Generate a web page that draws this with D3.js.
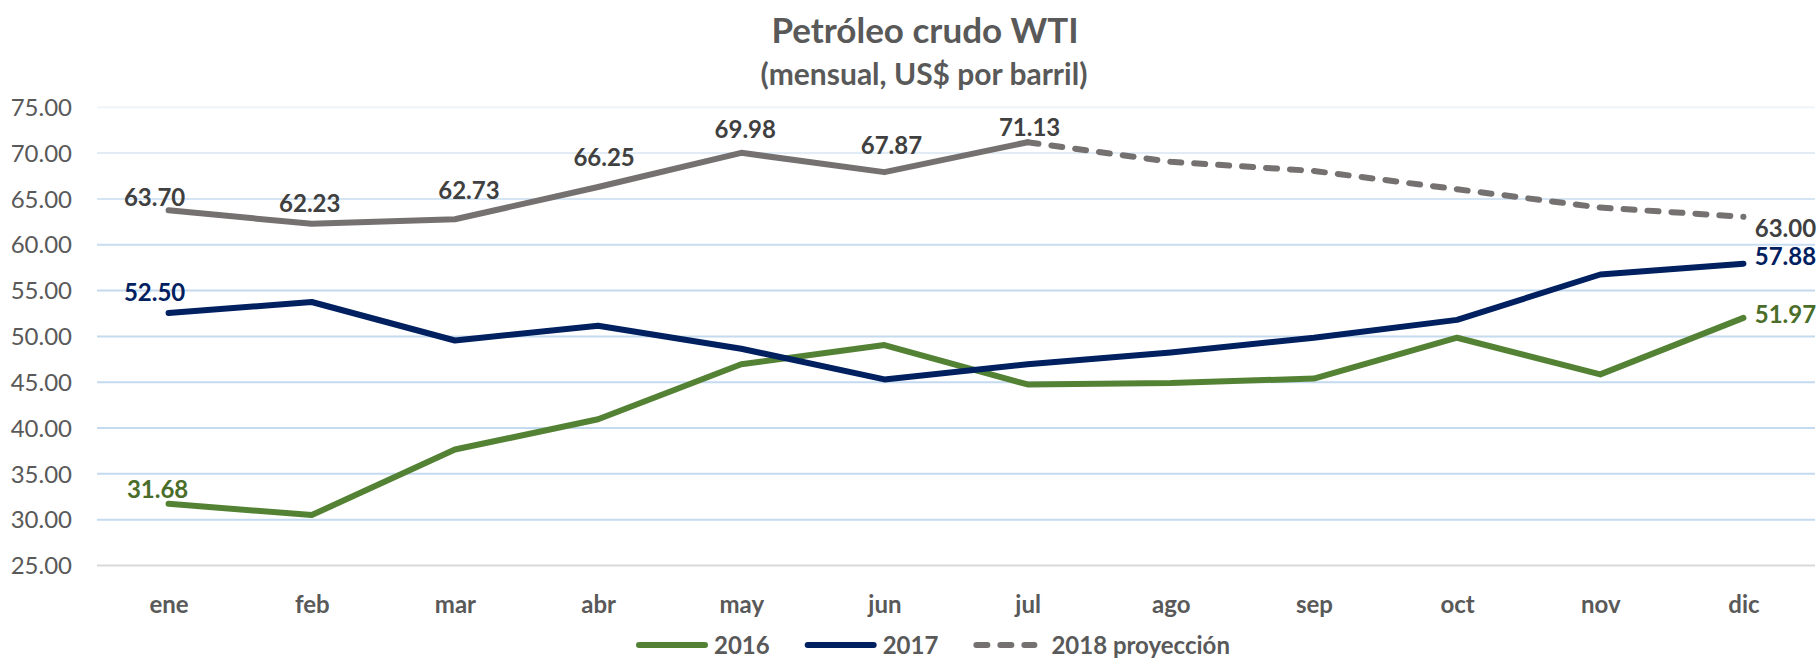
<!DOCTYPE html>
<html>
<head>
<meta charset="utf-8">
<script src="https://cdn.jsdelivr.net/npm/d3@7"></script>
<style>
  html, body { margin: 0; padding: 0; background: #fff; }
  svg { display: block; font-family: Lato, "Open Sans", sans-serif; }
</style>
</head>
<body>
<script>
//////////////////
////  Data    ////
//////////////////

const months = ["ene", "feb", "mar", "abr", "may", "jun", "jul", "ago", "sep", "oct", "nov", "dic"];

const values2016 = [31.68, 30.45, 37.6, 40.9, 46.9, 49.0, 44.7, 44.85, 45.35, 49.8, 45.8, 51.97];
const values2017 = [52.50, 53.7, 49.5, 51.1, 48.6, 45.25, 46.9, 48.2, 49.8, 51.75, 56.7, 57.88];
const values2018 = [63.70, 62.23, 62.73, 66.25, 69.98, 67.87, 71.13, 69.0, 68.0, 66.0, 64.0, 63.00];

// last month with real data for 2018, the rest is projection
const lastActual2018 = 6;

const yTicks = [25, 30, 35, 40, 45, 50, 55, 60, 65, 70, 75];

const titleText = "Petróleo crudo WTI";
const subtitleText = "(mensual, US$ por barril)";
const legendNames = ["2016", "2017", "2018 proyección"];

//////////////////////////////////
////  Layout and styles        ////
//////////////////////////////////

const width = 1820;
const height = 661;
const plot = { left: 97, right: 1815, top: 106.8, bottom: 565 };

const green = "#548235";
const navy = "#002060";
const grey = "#767171";
const textGrey = "#595959";

// labels: which point, and where the text sits relative to it
const labelSpots = [
    { s: 2, i: 0, dx: -14, dy: -13, fill: "#404040" },
    { s: 2, i: 1, dx: -2, dy: -21, fill: "#404040" },
    { s: 2, i: 2, dx: 14, dy: -29, fill: "#404040" },
    { s: 2, i: 3, dx: 6, dy: -30, fill: "#404040" },
    { s: 2, i: 4, dx: 4, dy: -24, fill: "#404040" },
    { s: 2, i: 5, dx: 7, dy: -27, fill: "#404040" },
    { s: 2, i: 6, dx: 2, dy: -15, fill: "#404040" },
    { s: 2, i: 11, dx: 42, dy: 11, fill: "#404040" },
    { s: 1, i: 0, dx: -14, dy: -21, fill: navy },
    { s: 1, i: 11, dx: 42, dy: -8, fill: navy },
    { s: 0, i: 0, dx: -11, dy: -15, fill: "#4a6e2a" },
    { s: 0, i: 11, dx: 42, dy: -4, fill: "#4a6e2a" }
];

const series = [values2016, values2017, values2018];

const x = d3.scalePoint().domain(months).range([plot.left, plot.right]).padding(0.5);
const y = d3.scaleLinear().domain([25, 75]).range([plot.bottom, plot.top]);

// gridlines fade out towards the top
const gridColor = d3.scaleLinear().domain([75, 58]).range(["#eef4fa", "#c3daef"]).clamp(true);

const svg = d3.select("body").append("svg")
    .attr("width", width)
    .attr("height", height);

// title
svg.append("text")
    .attr("x", 925).attr("y", 43)
    .attr("text-anchor", "middle")
    .attr("font-size", 35).attr("font-weight", 700)
    .attr("fill", textGrey)
    .text(titleText);

svg.append("text")
    .attr("x", 924).attr("y", 85)
    .attr("text-anchor", "middle")
    .attr("font-size", 30).attr("font-weight", 700)
    .attr("fill", textGrey)
    .text(subtitleText);

// y axis + gridlines
const yAxis = svg.append("g")
    .attr("transform", `translate(${plot.left},0)`)
    .call(d3.axisLeft(y)
        .tickValues(yTicks)
        .tickFormat(d3.format(".2f"))
        .tickSizeInner(-(plot.right - plot.left))
        .tickSizeOuter(0)
        .tickPadding(25));

yAxis.select(".domain").remove();
yAxis.selectAll(".tick line")
    .attr("stroke", d => d === 25 ? "#d9d9d9" : gridColor(d))
    .attr("stroke-width", 2);
yAxis.selectAll(".tick text")
    .attr("font-family", "Lato, sans-serif")
    .attr("font-size", 24)
    .attr("fill", textGrey)
    .attr("dy", "0.36em");

// x axis labels
const xAxis = svg.append("g")
    .attr("transform", `translate(0,${plot.bottom})`)
    .call(d3.axisBottom(x).tickSize(0).tickPadding(31));

xAxis.select(".domain").remove();
xAxis.selectAll(".tick text")
    .attr("font-family", "Lato, sans-serif")
    .attr("font-size", 24)
    .attr("font-weight", 700)
    .attr("fill", textGrey);

// lines
const line = d3.line()
    .x((d, i) => x(months[i]))
    .y(d => y(d));

const lineAt = (vals, from, to) => d3.line()
    .x(d => x(months[d]))
    .y(d => y(vals[d]))(d3.range(from, to + 1));

const lines = svg.append("g")
    .attr("fill", "none")
    .attr("stroke-width", 6)
    .attr("stroke-linecap", "round")
    .attr("stroke-linejoin", "round");

lines.append("path").attr("d", lineAt(values2018, lastActual2018, 11))
    .attr("stroke", grey).attr("stroke-dasharray", "11 13");
lines.append("path").attr("d", lineAt(values2018, 0, lastActual2018))
    .attr("stroke", grey);
lines.append("path").attr("d", line(values2016)).attr("stroke", green);
lines.append("path").attr("d", line(values2017)).attr("stroke", navy);

// data labels
svg.append("g")
    .attr("font-size", 24)
    .attr("font-weight", 700)
    .attr("text-anchor", "middle")
    .selectAll("text")
    .data(labelSpots)
    .join("text")
    .attr("x", d => x(months[d.i]) + d.dx)
    .attr("y", d => y(series[d.s][d.i]) + d.dy + 9)
    .attr("fill", d => d.fill)
    .text(d => d3.format(".2f")(series[d.s][d.i]));

// legend
const legend = svg.append("g").attr("transform", "translate(636,645)");
const legendStyles = [
    { stroke: green, dash: null },
    { stroke: navy, dash: null },
    { stroke: grey, dash: "11 13" }
];
let lx = 0;
legendNames.forEach((name, k) => {
    const sw = k === 2 ? 64 : 72;
    legend.append("line")
        .attr("x1", lx + 3).attr("x2", lx + sw - 3)
        .attr("stroke", legendStyles[k].stroke)
        .attr("stroke-width", 6)
        .attr("stroke-linecap", "round")
        .attr("stroke-dasharray", legendStyles[k].dash);
    const t = legend.append("text")
        .attr("x", lx + sw + (k === 2 ? 14 : 6))
        .attr("y", 9)
        .attr("font-size", 24)
        .attr("font-weight", 700)
        .attr("fill", textGrey)
        .text(name);
    lx += sw + (k === 2 ? 14 : 6) + t.node().getComputedTextLength() + 35;
});
</script>
</body>
</html>
